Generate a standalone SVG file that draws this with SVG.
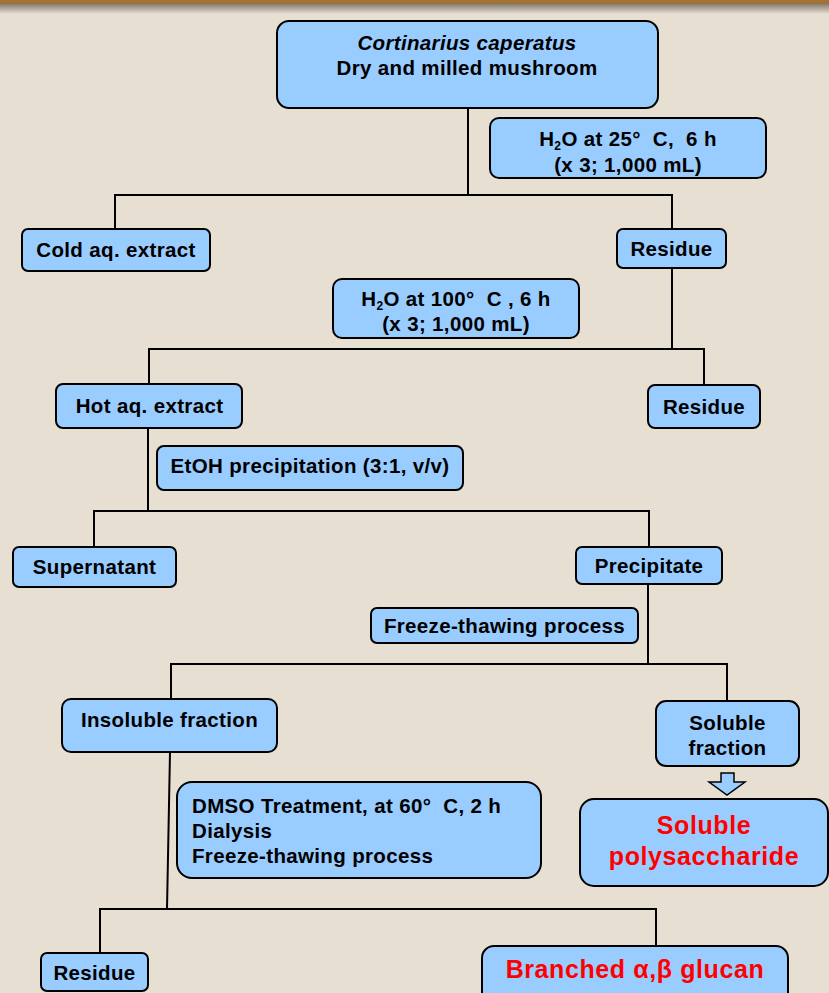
<svg xmlns="http://www.w3.org/2000/svg" width="829" height="993" viewBox="0 0 829 993">
<defs>
<linearGradient id="topShade" x1="0" y1="0" x2="0" y2="1">
<stop offset="0" stop-color="#7c7266"/>
<stop offset="1" stop-color="#e8dfd3"/>
</linearGradient>
<style>
.box{fill:#99ccff;stroke:#000;stroke-width:2}
.t{font-family:"Liberation Sans",Arial,sans-serif;font-weight:bold;font-size:20.5px;letter-spacing:0.35px;fill:#000}
.m{text-anchor:middle}
.sub{font-size:12px}
.red{font-family:"Liberation Sans",Arial,sans-serif;font-weight:bold;font-size:25px;letter-spacing:0.6px;fill:#ff0000;text-anchor:middle}
.c{fill:none;stroke:#000;stroke-width:2}
</style>
</defs>
<rect x="0" y="0" width="829" height="993" fill="#e8dfd3"/>
<rect x="0" y="3" width="829" height="11" fill="url(#topShade)"/>
<rect x="0" y="0" width="829" height="3.5" fill="#a2732f"/>

<g id="connectors">
<path class="c" d="M468,108 V195 M115,229 V195 H672 V229"/>
<path class="c" d="M672,268 V349 M149,384 V349 H704 V385"/>
<path class="c" d="M148,428 V511 M94,547 V511 H649 V547"/>
<path class="c" d="M648,584 V664 M171,699 V664 H727 V701"/>
<path class="c" d="M170,752 L167,909 M100,953 V909 H656 V946"/>
<polygon points="721,773 734,773 734,782 745,782 727,795 709,782 721,782" fill="#99ccff" stroke="#000" stroke-width="1.5" stroke-linejoin="miter"/>
</g>

<g id="node-start">
<rect class="box" x="277" y="21" width="381" height="87" rx="12"/>
<text class="t m" x="467" y="50" font-style="italic">Cortinarius caperatus</text>
<text class="t m" x="467" y="75">Dry and milled mushroom</text>
</g>

<g id="node-h2o25">
<rect class="box" x="490" y="118" width="276" height="60" rx="9"/>
<text class="t m" x="628" y="146">H<tspan class="sub" dy="4">2</tspan><tspan dy="-4">O at 25°&#160;&#160;C,&#160;&#160;6 h</tspan></text>
<text class="t m" x="628" y="172">(x 3; 1,000 mL)</text>
</g>

<g id="node-cold">
<rect class="box" x="22" y="229" width="188" height="42" rx="6"/>
<text class="t m" x="116" y="257">Cold aq. extract</text>
</g>

<g id="node-residue1">
<rect class="box" x="617" y="229" width="109" height="39" rx="6"/>
<text class="t m" x="671.5" y="256">Residue</text>
</g>

<g id="node-h2o100">
<rect class="box" x="333" y="279" width="246" height="59" rx="9"/>
<text class="t m" x="456" y="306">H<tspan class="sub" dy="4">2</tspan><tspan dy="-4">O at 100°&#160;&#160;C , 6 h</tspan></text>
<text class="t m" x="456" y="331">(x 3; 1,000 mL)</text>
</g>

<g id="node-hot">
<rect class="box" x="56" y="384" width="186" height="44" rx="7"/>
<text class="t m" x="149.5" y="413">Hot aq. extract</text>
</g>

<g id="node-residue2">
<rect class="box" x="648" y="385" width="112" height="43" rx="7"/>
<text class="t m" x="704" y="413.5">Residue</text>
</g>

<g id="node-etoh">
<rect class="box" x="157" y="446" width="306" height="44" rx="7"/>
<text class="t m" x="310" y="473">EtOH precipitation (3:1, v/v)</text>
</g>

<g id="node-supernatant">
<rect class="box" x="13" y="547" width="163" height="40" rx="6"/>
<text class="t m" x="94.5" y="574">Supernatant</text>
</g>

<g id="node-precipitate">
<rect class="box" x="576" y="547" width="146" height="37" rx="6"/>
<text class="t m" x="649" y="572.5">Precipitate</text>
</g>

<g id="node-freeze">
<rect class="box" x="371" y="608" width="267" height="35" rx="6"/>
<text class="t m" x="504.5" y="633">Freeze-thawing process</text>
</g>

<g id="node-insoluble">
<rect class="box" x="62" y="699" width="215" height="53" rx="9"/>
<text class="t m" x="169.5" y="727">Insoluble fraction</text>
</g>

<g id="node-soluble">
<rect class="box" x="656" y="701" width="143" height="65" rx="10"/>
<text class="t m" x="727.5" y="730">Soluble</text>
<text class="t m" x="727.5" y="755">fraction</text>
</g>

<g id="node-dmso">
<rect class="box" x="177" y="782" width="364" height="96" rx="15"/>
<text class="t" x="192" y="813">DMSO Treatment, at 60°&#160;&#160;C, 2 h</text>
<text class="t" x="192" y="838">Dialysis</text>
<text class="t" x="192" y="863">Freeze-thawing process</text>
</g>

<g id="node-soluble-poly">
<rect class="box" x="580" y="799" width="248" height="87" rx="14"/>
<text class="red" x="704" y="834">Soluble</text>
<text class="red" x="704" y="865">polysaccharide</text>
</g>

<g id="node-residue3">
<rect class="box" x="41" y="953" width="107" height="38" rx="6"/>
<text class="t m" x="94.5" y="980">Residue</text>
</g>

<g id="node-glucan">
<rect class="box" x="482" y="946" width="306" height="62" rx="12"/>
<text class="red" x="635" y="978">Branched α,β glucan</text>
</g>
</svg>
